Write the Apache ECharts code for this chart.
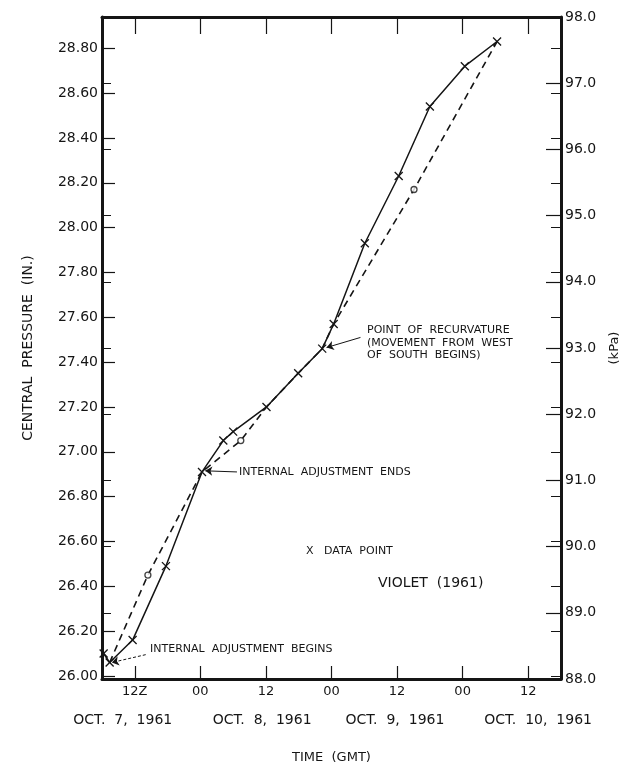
<!DOCTYPE html>
<html>
<head>
<meta charset="utf-8">
<script src="https://cdn.jsdelivr.net/npm/echarts@6/dist/echarts.min.js"></script>
<style>
  html, body { margin: 0; padding: 0; background: #fff; }
  #chart { width: 634px; height: 765px; }
</style>
</head>
<body>
<div id="chart"></div>
<script>
// hours after 00Z Oct 7 1961
const solidHours = [6.3, 7.4, 11.6, 17.7, 24.3, 28.2, 30.0, 36.1, 41.9, 46.3, 48.4, 54.1, 60.3, 66.0, 72.4, 78.3];
const solidPressure = [26.10, 26.06, 26.16, 26.49, 26.91, 27.05, 27.09, 27.20, 27.35, 27.46, 27.57, 27.93, 28.23, 28.54, 28.72, 28.83];

const dashedHours = [7.4, 14.4, 24.3, 31.4, 36.1, 41.9, 46.3, 48.4, 63.1, 78.3];
const dashedPressure = [26.06, 26.45, 26.91, 27.05, 27.20, 27.35, 27.46, 27.57, 28.17, 28.83];

const circleHours = [14.4, 31.4, 63.1];
const circlePressure = [26.45, 27.05, 28.17];

const tickHours = [12, 24, 36, 48, 60, 72, 84];
const tickLabels = ['12Z', '00', '12', '00', '12', '00', '12'];
const dateHours = [9.8, 35.3, 59.6, 85.8];
const dateLabels = ['OCT.  7,  1961', 'OCT.  8,  1961', 'OCT.  9,  1961', 'OCT.  10,  1961'];

const inchTicks = [26.00, 26.20, 26.40, 26.60, 26.80, 27.00, 27.20, 27.40, 27.60, 27.80, 28.00, 28.20, 28.40, 28.60, 28.80];

const KPA_TO_IN = 0.29530;
const kpaMin = 88, kpaMax = 98;
const inMin = kpaMin * KPA_TO_IN, inMax = kpaMax * KPA_TO_IN;

const FONT = 'DejaVu Sans';
const INK = '#151515';

const zip = (a, b) => a.map((v, i) => [v, b[i]]);

const chart = echarts.init(document.getElementById('chart'));

const option = {
    animation: false,
    backgroundColor: '#fff',
    grid: { left: 102, right: 73, top: 17, bottom: 86, outerBoundsMode: 'none' },
    xAxis: [
        {
            type: 'value', position: 'bottom', min: 6, max: 90,
            axisLine: { show: true, onZero: false, lineStyle: { color: INK, width: 3 } },
            axisTick: { show: true, inside: true, length: 13, customValues: tickHours, lineStyle: { color: INK, width: 1.2 } },
            axisLabel: {
                customValues: tickHours, margin: 6, color: INK, fontFamily: FONT, fontSize: 13,
                formatter: v => tickLabels[tickHours.indexOf(v)]
            },
            splitLine: { show: false }
        },
        {
            type: 'value', position: 'top', min: 6, max: 90,
            axisLine: { show: true, onZero: false, lineStyle: { color: INK, width: 3 } },
            axisTick: { show: true, inside: true, length: 17, customValues: tickHours, lineStyle: { color: INK, width: 1.2 } },
            axisLabel: { show: false },
            splitLine: { show: false }
        },
        {
            type: 'value', position: 'bottom', min: 6, max: 90,
            axisLine: { show: false },
            axisTick: { show: false },
            axisLabel: {
                customValues: dateHours, margin: 34, color: INK, fontFamily: FONT, fontSize: 14,
                formatter: v => dateLabels[dateHours.indexOf(v)]
            },
            splitLine: { show: false },
            name: 'TIME  (GMT)', nameLocation: 'middle', nameGap: 72,
            nameTextStyle: { color: INK, fontFamily: FONT, fontSize: 13 }
        }
    ],
    yAxis: [
        {
            type: 'value', position: 'left', min: inMin, max: inMax,
            axisLine: { show: true, onZero: false, lineStyle: { color: INK, width: 3 } },
            axisTick: { show: true, inside: true, length: 13, customValues: inchTicks, lineStyle: { color: INK, width: 1.2 } },
            axisLabel: {
                customValues: inchTicks, margin: 4, color: INK, fontFamily: FONT, fontSize: 14,
                formatter: v => v.toFixed(2)
            },
            splitLine: { show: false },
            name: 'CENTRAL  PRESSURE  (IN.)', nameLocation: 'middle', nameGap: 67, nameRotate: 90,
            nameTextStyle: { color: INK, fontFamily: FONT, fontSize: 14 }
        },
        {
            type: 'value', position: 'right', min: kpaMin, max: kpaMax, interval: 1,
            axisLine: { show: true, onZero: false, lineStyle: { color: INK, width: 3 } },
            axisTick: { show: true, inside: true, length: 15, lineStyle: { color: INK, width: 1.2 } },
            axisLabel: {
                margin: 4, color: INK, fontFamily: FONT, fontSize: 14,
                formatter: v => v.toFixed(1)
            },
            splitLine: { show: false },
            name: '(kPa)', nameLocation: 'middle', nameGap: 47, nameRotate: 90,
            nameTextStyle: { color: INK, fontFamily: FONT, fontSize: 13 }
        },
        {
            // kPa ticks repeated on the left edge
            type: 'value', position: 'left', min: kpaMin, max: kpaMax, interval: 1,
            axisLine: { show: false },
            axisTick: { show: true, inside: true, length: 9, lineStyle: { color: INK, width: 1 } },
            axisLabel: { show: false },
            splitLine: { show: false }
        },
        {
            // inch ticks repeated on the right edge
            type: 'value', position: 'right', min: inMin, max: inMax,
            axisLine: { show: false },
            axisTick: { show: true, inside: true, length: 10, customValues: inchTicks, lineStyle: { color: INK, width: 1 } },
            axisLabel: { show: false },
            splitLine: { show: false }
        }
    ],
    series: [
        {
            name: 'dashed',
            type: 'line',
            data: zip(dashedHours, dashedPressure),
            symbol: 'none',
            lineStyle: { color: INK, width: 1.6, type: [7, 5] },
            z: 3
        },
        {
            name: 'solid',
            type: 'line',
            data: zip(solidHours, solidPressure),
            symbol: 'path://M0,0 L10,10 M10,0 L0,10',
            symbolSize: 8,
            itemStyle: { color: 'none', borderColor: INK, borderWidth: 1.3 },
            lineStyle: { color: INK, width: 1.5 },
            z: 4,
            markLine: {
                silent: true,
                symbol: ['none', 'arrow'],
                symbolSize: 7,
                label: { show: false },
                lineStyle: { color: INK, width: 1, type: 'solid' },
                data: [
                    [{ coord: [30.7, 26.91] }, { coord: [24.9, 26.915] }],
                    [{ coord: [53.3, 27.51] }, { coord: [47.1, 27.465] }],
                    [{ coord: [14.0, 26.095], lineStyle: { type: [3, 2] } }, { coord: [7.8, 26.06] }]
                ]
            }
        },
        {
            name: 'circles',
            type: 'scatter',
            data: zip(circleHours, circlePressure),
            symbol: 'circle',
            symbolSize: 6,
            itemStyle: { color: '#fff', borderColor: INK, borderWidth: 1.3 },
            z: 5
        }
    ],
    graphic: [
        { type: 'text', left: 239, top: 467, style: { text: 'INTERNAL  ADJUSTMENT  ENDS', fill: INK, font: '11px "DejaVu Sans"' } },
        { type: 'text', left: 367, top: 324, style: { text: 'POINT  OF  RECURVATURE\n(MOVEMENT  FROM  WEST\nOF  SOUTH  BEGINS)', fill: INK, font: '11px "DejaVu Sans"', lineHeight: 12.5 } },
        { type: 'text', left: 150, top: 644, style: { text: 'INTERNAL  ADJUSTMENT  BEGINS', fill: INK, font: '11px "DejaVu Sans"' } },
        { type: 'text', left: 306, top: 546, style: { text: 'X   DATA  POINT', fill: INK, font: '11px "DejaVu Sans"' } },
        { type: 'text', left: 378, top: 576, style: { text: 'VIOLET  (1961)', fill: INK, font: '14px "DejaVu Sans"' } }
    ]
};

chart.setOption(option);
</script>
</body>
</html>
